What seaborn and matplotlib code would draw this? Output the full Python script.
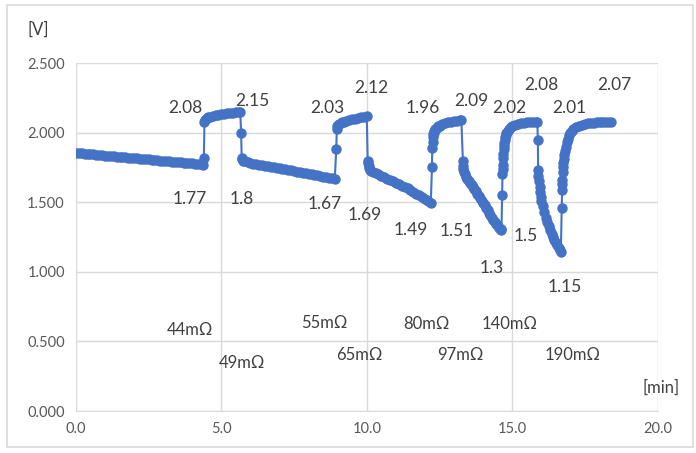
import numpy as np
import pandas as pd
import seaborn as sns
from matplotlib import pyplot as plt
from matplotlib.patches import Rectangle

# voltage trace (time in min, voltage in V)
t_dis1 = [0.0, 0.1, 0.2, 0.3, 0.4, 0.5, 0.6, 0.7, 0.8, 0.9, 1.0, 1.1, 1.2, 1.3, 1.4, 1.5,
          1.6, 1.7, 1.8, 1.9, 2.0, 2.1, 2.2, 2.3, 2.4, 2.5, 2.6, 2.7, 2.8, 2.9, 3.0, 3.1,
          3.2, 3.3, 3.4, 3.5, 3.6, 3.7, 3.8, 3.9, 4.0, 4.1, 4.2, 4.3, 4.36]
v_dis1 = [1.855, 1.853, 1.851, 1.849, 1.847, 1.846, 1.844, 1.842, 1.840, 1.838, 1.836,
          1.834, 1.832, 1.830, 1.828, 1.827, 1.825, 1.823, 1.821, 1.819, 1.817, 1.815,
          1.813, 1.811, 1.809, 1.808, 1.806, 1.804, 1.802, 1.800, 1.798, 1.796, 1.794,
          1.792, 1.790, 1.789, 1.787, 1.785, 1.783, 1.781, 1.779, 1.777, 1.775, 1.773, 1.770]
t_chg1 = [4.40, 4.42, 4.44, 4.47, 4.5, 4.55, 4.6, 4.7, 4.8, 4.9, 5.0, 5.1, 5.2, 5.3, 5.4,
          5.5, 5.6, 5.65]
v_chg1 = [1.82, 2.08, 2.09, 2.10, 2.105, 2.11, 2.115, 2.12, 2.125, 2.13, 2.132, 2.135,
          2.138, 2.14, 2.143, 2.146, 2.148, 2.15]
t_dis2 = [5.68, 5.70, 5.72, 5.75, 5.8, 5.9, 6.0, 6.1, 6.2, 6.3, 6.4, 6.5, 6.6, 6.7, 6.8,
          6.9, 7.0, 7.1, 7.2, 7.3, 7.4, 7.5, 7.6, 7.7, 7.8, 7.9, 8.0, 8.1, 8.2, 8.3, 8.4,
          8.5, 8.6, 8.7, 8.8, 8.9]
v_dis2 = [2.00, 1.82, 1.81, 1.80, 1.795, 1.788, 1.782, 1.777, 1.772, 1.768, 1.765, 1.761,
          1.758, 1.754, 1.751, 1.747, 1.744, 1.740, 1.737, 1.733, 1.729, 1.725, 1.721,
          1.717, 1.713, 1.709, 1.705, 1.701, 1.697, 1.693, 1.689, 1.685, 1.681, 1.677,
          1.674, 1.670]
t_chg2 = [8.95, 8.97, 8.99, 9.02, 9.06, 9.1, 9.15, 9.2, 9.3, 9.4, 9.5, 9.6, 9.7, 9.8,
          9.9, 10.0]
v_chg2 = [1.88, 2.03, 2.045, 2.055, 2.065, 2.07, 2.075, 2.08, 2.085, 2.09, 2.095, 2.10,
          2.105, 2.11, 2.115, 2.12]
t_dis3 = [10.03, 10.04, 10.06, 10.08, 10.1, 10.15, 10.2, 10.3, 10.4, 10.5, 10.6, 10.7,
          10.8, 10.9, 11.0, 11.1, 11.2, 11.3, 11.4, 11.5, 11.6, 11.7, 11.8, 11.9, 12.0,
          12.1, 12.2]
v_dis3 = [1.80, 1.78, 1.76, 1.745, 1.735, 1.725, 1.718, 1.708, 1.70, 1.69, 1.68, 1.67,
          1.66, 1.65, 1.64, 1.63, 1.62, 1.61, 1.60, 1.588, 1.575, 1.562, 1.55, 1.538,
          1.525, 1.51, 1.495]
t_chg3 = [12.24, 12.25, 12.26, 12.27, 12.28, 12.3, 12.32, 12.35, 12.4, 12.45, 12.5, 12.6,
          12.7, 12.8, 12.9, 13.0, 13.1, 13.2, 13.25]
v_chg3 = [1.75, 1.89, 1.93, 1.97, 1.99, 2.00, 2.015, 2.025, 2.035, 2.045, 2.05, 2.06,
          2.07, 2.075, 2.08, 2.083, 2.086, 2.088, 2.09]
t_dis4 = [13.30, 13.31, 13.32, 13.34, 13.37, 13.4, 13.45, 13.5, 13.55, 13.6, 13.65, 13.7,
          13.75, 13.8, 13.85, 13.9, 13.95, 14.0, 14.05, 14.1, 14.15, 14.2, 14.25, 14.3,
          14.35, 14.4, 14.45, 14.5, 14.55, 14.6, 14.63]
v_dis4 = [1.80, 1.76, 1.74, 1.72, 1.70, 1.685, 1.67, 1.655, 1.64, 1.625, 1.61, 1.595,
          1.578, 1.562, 1.545, 1.528, 1.512, 1.495, 1.478, 1.46, 1.443, 1.425, 1.408,
          1.39, 1.373, 1.357, 1.342, 1.328, 1.315, 1.305, 1.30]
t_chg4 = [14.65, 14.66, 14.665, 14.67, 14.68, 14.69, 14.70, 14.71, 14.72, 14.74, 14.76,
          14.78, 14.8, 14.85, 14.9, 14.95, 15.0, 15.1, 15.2, 15.3, 15.4, 15.5, 15.6, 15.7,
          15.8, 15.86]
v_chg4 = [1.55, 1.70, 1.74, 1.77, 1.82, 1.85, 1.88, 1.905, 1.925, 1.95, 1.97, 1.985, 2.00,
          2.015, 2.03, 2.04, 2.05, 2.058, 2.064, 2.07, 2.073, 2.075, 2.078, 2.08, 2.08, 2.08]
t_dis5 = [15.88, 15.89, 15.90, 15.92, 15.94, 15.96, 15.98, 16.0, 16.05, 16.1, 16.15, 16.2,
          16.25, 16.3, 16.35, 16.4, 16.45, 16.5, 16.55, 16.6, 16.64, 16.67]
v_dis5 = [1.95, 1.73, 1.69, 1.65, 1.61, 1.575, 1.54, 1.51, 1.47, 1.43, 1.39, 1.36, 1.33,
          1.30, 1.275, 1.25, 1.23, 1.21, 1.19, 1.17, 1.155, 1.145]
t_chg5 = [16.70, 16.71, 16.715, 16.72, 16.73, 16.74, 16.75, 16.77, 16.79, 16.81, 16.84,
          16.87, 16.9, 16.95, 17.0, 17.05, 17.1, 17.2, 17.3, 17.4, 17.5, 17.6, 17.7, 17.8,
          17.9, 18.0, 18.1, 18.2, 18.3, 18.4]
v_chg5 = [1.46, 1.59, 1.63, 1.66, 1.72, 1.75, 1.78, 1.81, 1.84, 1.87, 1.90, 1.93, 1.955,
          1.98, 2.00, 2.015, 2.025, 2.04, 2.05, 2.057, 2.062, 2.066, 2.07, 2.072, 2.074,
          2.076, 2.078, 2.079, 2.08, 2.08]

# value labels (text, x, y) and internal resistance labels
volt_labels = ['2.08', '2.15', '1.77', '1.8', '2.03', '1.67', '2.12', '1.69', '1.96', '1.49',
               '2.09', '1.51', '2.02', '1.3', '2.08', '1.5', '2.01', '1.15', '2.07']
volt_lx = [3.75, 6.05, 3.92, 5.7, 8.66, 8.56, 10.17, 9.92, 11.93, 11.53,
           13.6, 13.1, 14.9, 14.28, 16.0, 15.48, 16.96, 16.8, 18.5]
volt_ly = [2.18, 2.23, 1.52, 1.52, 2.18, 1.49, 2.32, 1.41, 2.18, 1.30,
           2.23, 1.29, 2.18, 1.03, 2.34, 1.26, 2.18, 0.89, 2.34]
res_labels = ['44mΩ', '49mΩ', '55mΩ', '65mΩ', '80mΩ', '97mΩ', '140mΩ', '190mΩ']
res_lx = [3.92, 5.7, 8.55, 9.76, 12.06, 13.2, 14.9, 17.08]
res_ly = [0.58, 0.345, 0.63, 0.40, 0.625, 0.40, 0.625, 0.40]


def main():
    times = (t_dis1 + t_chg1 + t_dis2 + t_chg2 + t_dis3 + t_chg3 + t_dis4 + t_chg4
             + t_dis5 + t_chg5)
    volts = (v_dis1 + v_chg1 + v_dis2 + v_chg2 + v_dis3 + v_chg3 + v_dis4 + v_chg4
             + v_dis5 + v_chg5)
    df = pd.DataFrame({'time': times, 'volt': volts})

    sns.set_style('white')
    plt.rcParams['font.family'] = ['Lato', 'DejaVu Sans']

    fig = plt.figure(figsize=(6.96, 4.53), dpi=100)
    ax = fig.add_axes([0.109, 0.0927, 0.836, 0.768])
    fig.patches.append(Rectangle((0.010, 0.013), 0.986, 0.976, transform=fig.transFigure,
                                 fill=False, edgecolor='#d9d9d9', linewidth=1.2))

    blue = '#4472C4'
    sns.lineplot(data=df, x='time', y='volt', sort=False, estimator=None, ax=ax,
                 color=blue, linewidth=1.5, marker='o', markersize=7.5,
                 markeredgewidth=0, markerfacecolor=blue)

    ax.set_xlim(0, 20)
    ax.set_ylim(0, 2.5)
    ax.set_xticks(np.arange(0, 20.1, 5))
    ax.set_yticks(np.arange(0, 2.51, 0.5))
    ax.set_xticklabels([f'{v:.1f}' for v in np.arange(0, 20.1, 5)])
    ax.set_yticklabels([f'{v:.3f}' for v in np.arange(0, 2.51, 0.5)])
    ax.tick_params(axis='both', labelsize=10.5, colors='#595959', length=0, pad=8)
    ax.grid(True, color='#d9d9d9', linewidth=1)
    for side in ['top', 'right', 'left']:
        ax.spines[side].set_visible(False)
    ax.spines['bottom'].set_color('#d9d9d9')
    ax.set_xlabel('')
    ax.set_ylabel('')

    for s, x, y in zip(volt_labels, volt_lx, volt_ly):
        ax.text(x, y, s, ha='center', va='center', fontsize=12.5, color='#404040')
    for s, x, y in zip(res_labels, res_lx, res_ly):
        ax.text(x, y, s, ha='center', va='center', fontsize=12, color='#404040')

    ax.text(20.1, 0.165, '[min]', ha='center', va='center', fontsize=12, color='#404040',
            clip_on=False)
    fig.text(38 / 696, 1 - 30 / 453, '[V]', ha='center', va='center', fontsize=12,
             color='#404040')

    fig.savefig('out.png', dpi=100)


if __name__ == '__main__':
    main()
